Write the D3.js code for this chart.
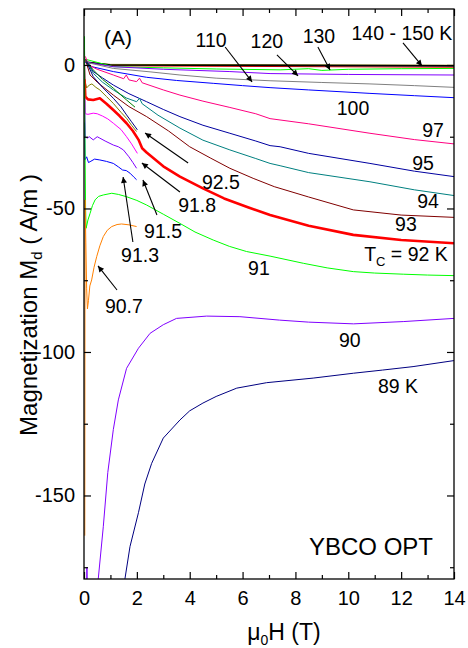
<!DOCTYPE html>
<html><head><meta charset="utf-8">
<script src="https://cdn.jsdelivr.net/npm/d3@7"></script>
<style>
body{margin:0;background:#fff;}
text{font-family:"Liberation Sans",Arial,sans-serif;fill:#000;}
</style></head>
<body><svg id="c" width="468" height="648"></svg>
<script>
// ---- data: [field H (T), magnetization Md (A/m)] ----
const xTicksMajor=[0,2,4,6,8,10,12,14];
const xTicksMinor=[1,3,5,7,9,11,13];
const yTicksMajor=[0,-50,-100,-150];
const yTicksMinor=[-25,-75,-125,-175];

const t89=[[1.5,-185],[1.55,-179],[1.74,-167.8],[2.06,-156],[2.3,-146],[2.56,-138.8],[3.0,-130],[3.63,-123.7],[4.0,-120.5],[4.5,-117.8],[5.0,-115.5],[5.78,-112.6],[6.91,-110.7],[8.67,-109.1],[10.2,-107.4],[11.3,-106.3],[12.45,-105.1],[14,-103]];
const t90=[[0.1,-186],[0.11,-175],[0.13,-186],[0.5,-186],[0.54,-179],[0.73,-160.9],[0.9,-142],[1.11,-127],[1.3,-116.7],[1.61,-105.7],[2.06,-98.7],[2.5,-93.5],[3.0,-90.5],[3.5,-88.3],[4.64,-87.5],[5.9,-87.7],[7.4,-88.9],[8.5,-89.6],[10.2,-90.2],[12.1,-89.4],[14,-88.3]];
const t90_7=[[0.03,-164],[0.04,-47],[0.07,-62],[0.1,-78],[0.13,-85],[0.17,-82],[0.22,-77],[0.29,-74.9],[0.38,-70.5],[0.48,-66.8],[0.6,-63],[0.73,-59.8],[0.88,-57.6],[1.05,-56.3],[1.25,-55.6],[1.42,-55.4],[1.7,-55.7],[1.99,-56.3]];
const t91=[[0.02,10],[0.03,-20],[0.06,-50],[0.08,-56.9],[0.15,-54],[0.23,-51.7],[0.32,-49],[0.42,-47],[0.55,-45.8],[0.73,-45.3],[1.05,-44.7],[1.3,-45.1],[1.61,-45.9],[2.0,-47.2],[2.37,-48.8],[3.0,-52],[3.63,-55.2],[4.2,-58.2],[4.89,-61],[5.5,-63.2],[6.15,-65],[7.04,-66.6],[8.3,-69.1],[9.2,-70.7],[10.19,-72],[11,-72.5],[12.08,-72.9],[13,-73.2],[14,-73.4]];
const t91_3=[[0.02,-20],[0.04,-33],[0.1,-32],[0.17,-34],[0.23,-33.7],[0.4,-32.8],[0.6,-33.1],[0.85,-33.6],[1.11,-34.3],[1.3,-35.5],[1.46,-36.6],[1.6,-36.8],[1.74,-37.7],[1.88,-39],[1.99,-40]];
const t91_5=[[0.02,-10],[0.05,-25],[0.12,-25.5],[0.2,-25],[0.35,-26.1],[0.5,-25],[0.6,-25.5],[0.8,-26.5],[1.11,-27.9],[1.3,-28.5],[1.49,-29.6],[1.7,-32],[1.85,-34],[1.99,-36]];
const t91_8=[[0.02,5],[0.05,-17],[0.15,-17.2],[0.35,-16.8],[0.5,-17],[0.7,-17.8],[0.9,-18.8],[1.11,-20.3],[1.4,-22.5],[1.61,-25],[1.8,-27.5],[2.02,-30.8]];
const t92=[[0.02,-5],[0.05,-11],[0.15,-12],[0.35,-12.2],[0.6,-11.6],[0.85,-13.5],[1.11,-15.7],[1.35,-17.8],[1.61,-20.3],[1.85,-23],[2.06,-26],[2.2,-29],[2.37,-30.5],[3.0,-35.3],[3.63,-38.9],[4.5,-43],[5.3,-46.5],[6.2,-49.6],[7.04,-52.3],[8.5,-56],[10.19,-59.2],[12,-61],[14,-62.1]];
const t92_5=[[0.02,0],[0.05,-6],[0.1,-8],[0.2,-7],[0.3,-6.6],[0.45,-7.8],[0.6,-8.7],[0.85,-11],[1.11,-13.4],[1.4,-16.5],[1.61,-18.6],[1.8,-21],[1.99,-23.2]];
const t92_2=[[0.1,1],[0.35,-4.1],[0.7,-7.8],[1.11,-11.6],[1.4,-14.6],[1.61,-17.4],[1.8,-19.8],[2.02,-22.6]];
const t92_7=[[0.1,1],[0.35,-1.7],[0.7,-5],[1.11,-8.1],[1.4,-10.5],[1.61,-12.2],[1.93,-14.7]];
const t93=[[0.05,2],[0.23,-3.5],[0.5,-6],[1.11,-10.5],[1.7,-14.5],[2.37,-18],[3.2,-23],[4.0,-28.5],[4.8,-32.5],[5.52,-36],[6.4,-39.5],[7.2,-42.4],[8.5,-46],[10.19,-50.5],[12,-52.3],[14,-53.1]];
const t94=[[0.05,2],[0.35,-2.9],[0.7,-6],[1.11,-8.7],[1.6,-11.5],[1.99,-12.8],[2.1,-11.6],[2.2,-13.5],[2.8,-17.5],[3.63,-22],[4.5,-26.2],[5.52,-29.6],[6.5,-32.6],[7.04,-34.3],[7.42,-35.1],[8.5,-37.5],[10.82,-40.7],[12.5,-43.5],[14,-45.5]];
const t95=[[0.05,2],[0.35,-2.3],[0.7,-4.5],[1.11,-7],[1.7,-10],[2.37,-12.8],[3.0,-15.5],[3.63,-18],[4.5,-21],[5.52,-23.8],[6.5,-26.5],[7.04,-28.1],[7.42,-28.5],[8.5,-30.8],[10.82,-34.3],[12.5,-37],[14,-38.9]];
const t97=[[0.05,3],[0.17,0],[0.5,-1.5],[1.11,-3.5],[1.5,-4.8],[1.6,-3.5],[1.7,-5.2],[1.99,-5.8],[2.1,-4.6],[2.2,-6.2],[3.0,-8.7],[3.63,-10.5],[4.5,-12.6],[5.52,-14.8],[6.5,-17],[7.04,-18.7],[8.5,-20.5],[10.82,-23.8],[12.5,-26],[14,-27.5]];
const t100=[[0.05,1],[0.3,-0.6],[1.11,-2.3],[2.37,-4.3],[3.5,-5.4],[4.89,-6.4],[6,-7.2],[7.04,-7.9],[8.5,-8.7],[10.82,-9.9],[12.5,-10.7],[14,-11.4]];
const t110=[[0.05,1],[1.11,-1.2],[2.5,-2.4],[3.63,-3.5],[5,-4.6],[6.34,-5.2],[7.04,-5.5],[9,-6.1],[10.82,-6.6],[12.5,-7.2],[14,-7.8]];
const t120=[[0.05,1],[1.11,-0.6],[3,-1.5],[5.52,-2.3],[7.04,-3.0],[10,-3.3],[14,-3.5]];
const t130=[[0.05,2],[1.11,-0.6],[3,-1.0],[5,-1.4],[7.42,-1.7],[8.5,-1.3],[9,-1.9],[10,-1.5],[12,-1.3],[14,-1.2]];
const t140=[[0.05,1],[1,0],[14,-0.3]];
const t145=[[0.05,1],[1,-0.3],[14,-0.8]];
const t150=[[0.05,1],[1,0.2],[14,-0.1]];

const series=[
 {d:t145,c:"#FF0000",w:1},{d:t150,c:"#808000",w:1},{d:t140,c:"#000000",w:1.6},
 {d:t130,c:"#00FF00",w:1},{d:t120,c:"#8000FF",w:1},{d:t110,c:"#808080",w:1},
 {d:t100,c:"#0000FF",w:1},{d:t97,c:"#FF0080",w:1},{d:t95,c:"#0000A0",w:1},
 {d:t94,c:"#008080",w:1},{d:t93,c:"#800000",w:1},{d:t92_7,c:"#008000",w:1},
 {d:t92_2,c:"#000080",w:1},{d:t92_5,c:"#808000",w:1},{d:t91_8,c:"#FF00FF",w:1},
 {d:t91_5,c:"#8000FF",w:1},{d:t91_3,c:"#0000FF",w:1},{d:t92,c:"#FF0000",w:2.6},
 {d:t91,c:"#00FF00",w:1},{d:t90_7,c:"#FF8000",w:1},{d:t90,c:"#8000FF",w:1},
 {d:t89,c:"#000080",w:1}
];

// labels: [text, H, M]
const labels=[["110",4.81,8.71],["120",6.92,8.36],["130",8.89,10.1],["140 - 150 K",12.03,11.15],
 ["100",10.18,-14.98],["97",13.21,-22.65],["95",12.83,-34.15],["94",13.02,-47.4],["93",12.18,-55.4],
 ["92.5",5.18,-40.8],["91.8",4.28,-48.8],["91.5",2.99,-57.8],["91.3",2.12,-66.2],["91",6.62,-70.7],
 ["90.7",1.51,-84.0],["90",10.06,-95.8],["89 K",11.88,-111.8]];
// arrows: [H0,M0,H1,M1]
const arrows=[[5.34,6.27,6.36,-5.92],[7.30,3.48,8.10,-3.83],[8.85,6.27,9.31,-1.74],[12.07,7.67,12.79,-0.35],
 [3.94,-34.15,2.31,-23.69],[3.63,-44.25,2.19,-34.15],[2.76,-52.26,2.23,-40.07],[1.85,-61.67,1.48,-39.02],[1.25,-78.4,0.53,-70.03]];

// ---- drawing ----
const svg=d3.select("#c");
const L=84,R=454,T=9,B=579;
const x=d3.scaleLinear().domain([0,14]).range([L,R]);
const y=d3.scaleLinear().domain([-179.1,19.5]).range([B,T]);

svg.append("defs").append("clipPath").attr("id","clip").append("rect")
 .attr("x",L).attr("y",T).attr("width",R-L).attr("height",B-T);
const marker=svg.select("defs").append("marker").attr("id","ah").attr("viewBox","0 0 10 10")
 .attr("refX",10).attr("refY",5).attr("markerWidth",9).attr("markerHeight",6)
 .attr("markerUnits","userSpaceOnUse").attr("orient","auto");
marker.append("path").attr("d","M0,0L10,5L0,10Z").attr("fill","#000");

const line=d3.line().x(d=>x(d[0])).y(d=>y(d[1]));
const g=svg.append("g").attr("clip-path","url(#clip)");
series.forEach(s=>{
 g.append("path").attr("d",line(s.d)).attr("fill","none").attr("stroke",s.c)
  .attr("stroke-width",s.w).attr("stroke-linejoin","round");
});

// axes
function styleAxis(sel){sel.select(".domain").remove();sel.selectAll("line").attr("stroke","#000").attr("stroke-width",1.2);
 sel.selectAll("text").style("font-family","'Liberation Sans',Arial,sans-serif").style("font-size","20px").attr("fill","#000");}
svg.append("g").attr("transform",`translate(0,${B})`).call(d3.axisBottom(x).tickValues(xTicksMajor).tickSize(-7).tickPadding(12).tickFormat(d=>String(d))).call(styleAxis);
svg.append("g").attr("transform",`translate(0,${B})`).call(d3.axisBottom(x).tickValues(xTicksMinor).tickSize(-4).tickFormat("")).call(styleAxis);
svg.append("g").attr("transform",`translate(0,${T})`).call(d3.axisTop(x).tickValues(xTicksMajor).tickSize(-7).tickFormat("")).call(styleAxis);
svg.append("g").attr("transform",`translate(0,${T})`).call(d3.axisTop(x).tickValues(xTicksMinor).tickSize(-4).tickFormat("")).call(styleAxis);
svg.append("g").attr("transform",`translate(${L},0)`).call(d3.axisLeft(y).tickValues(yTicksMajor).tickSize(-7).tickPadding(9).tickFormat(d=>String(d))).call(styleAxis);
svg.append("g").attr("transform",`translate(${L},0)`).call(d3.axisLeft(y).tickValues(yTicksMinor).tickSize(-4).tickFormat("")).call(styleAxis);
svg.append("g").attr("transform",`translate(${R},0)`).call(d3.axisRight(y).tickValues(yTicksMajor).tickSize(-7).tickFormat("")).call(styleAxis);
svg.append("g").attr("transform",`translate(${R},0)`).call(d3.axisRight(y).tickValues(yTicksMinor).tickSize(-4).tickFormat("")).call(styleAxis);
svg.append("rect").attr("x",L).attr("y",T).attr("width",R-L).attr("height",B-T).attr("fill","none").attr("stroke","#000").attr("stroke-width",1.3);

// annotations
labels.forEach(l=>{
 svg.append("text").attr("x",x(l[1])).attr("y",y(l[2])).attr("dy","0.36em").attr("text-anchor","middle")
  .style("font-size","19.5px").text(l[0]);
});
arrows.forEach(a=>{
 svg.append("line").attr("x1",x(a[0])).attr("y1",y(a[1])).attr("x2",x(a[2])).attr("y2",y(a[3]))
  .attr("stroke","#000").attr("stroke-width",1.1).attr("marker-end","url(#ah)");
});
svg.append("text").attr("x",x(1.29)).attr("y",y(9.76)).attr("dy","0.36em").attr("text-anchor","middle").style("font-size","21px").text("(A)");
const tc=svg.append("text").attr("x",x(10.6)).attr("y",y(-68.4)).style("font-size","19.5px");
tc.append("tspan").text("T");
tc.append("tspan").attr("dy",5).style("font-size","13px").text("C");
tc.append("tspan").attr("dy",-5).text(" = 92 K");
svg.append("text").attr("x",x(10.86)).attr("y",y(-167.6)).attr("dy","0.36em").attr("text-anchor","middle").style("font-size","24px").text("YBCO OPT");

// axis titles
const xt=svg.append("text").attr("x",284).attr("y",640).attr("text-anchor","middle").style("font-size","23px");
xt.append("tspan").text("μ");
xt.append("tspan").attr("dy",5).style("font-size","14px").text("0");
xt.append("tspan").attr("dy",-5).text("H (T)");
const yt=svg.append("text").attr("transform","translate(37,305) rotate(-90)").attr("text-anchor","middle").style("font-size","24px");
yt.append("tspan").text("Magnetization M");
yt.append("tspan").attr("dy",5).style("font-size","15px").text("d");
yt.append("tspan").attr("dy",-5).text(" ( A/m )");
</script></body></html>
